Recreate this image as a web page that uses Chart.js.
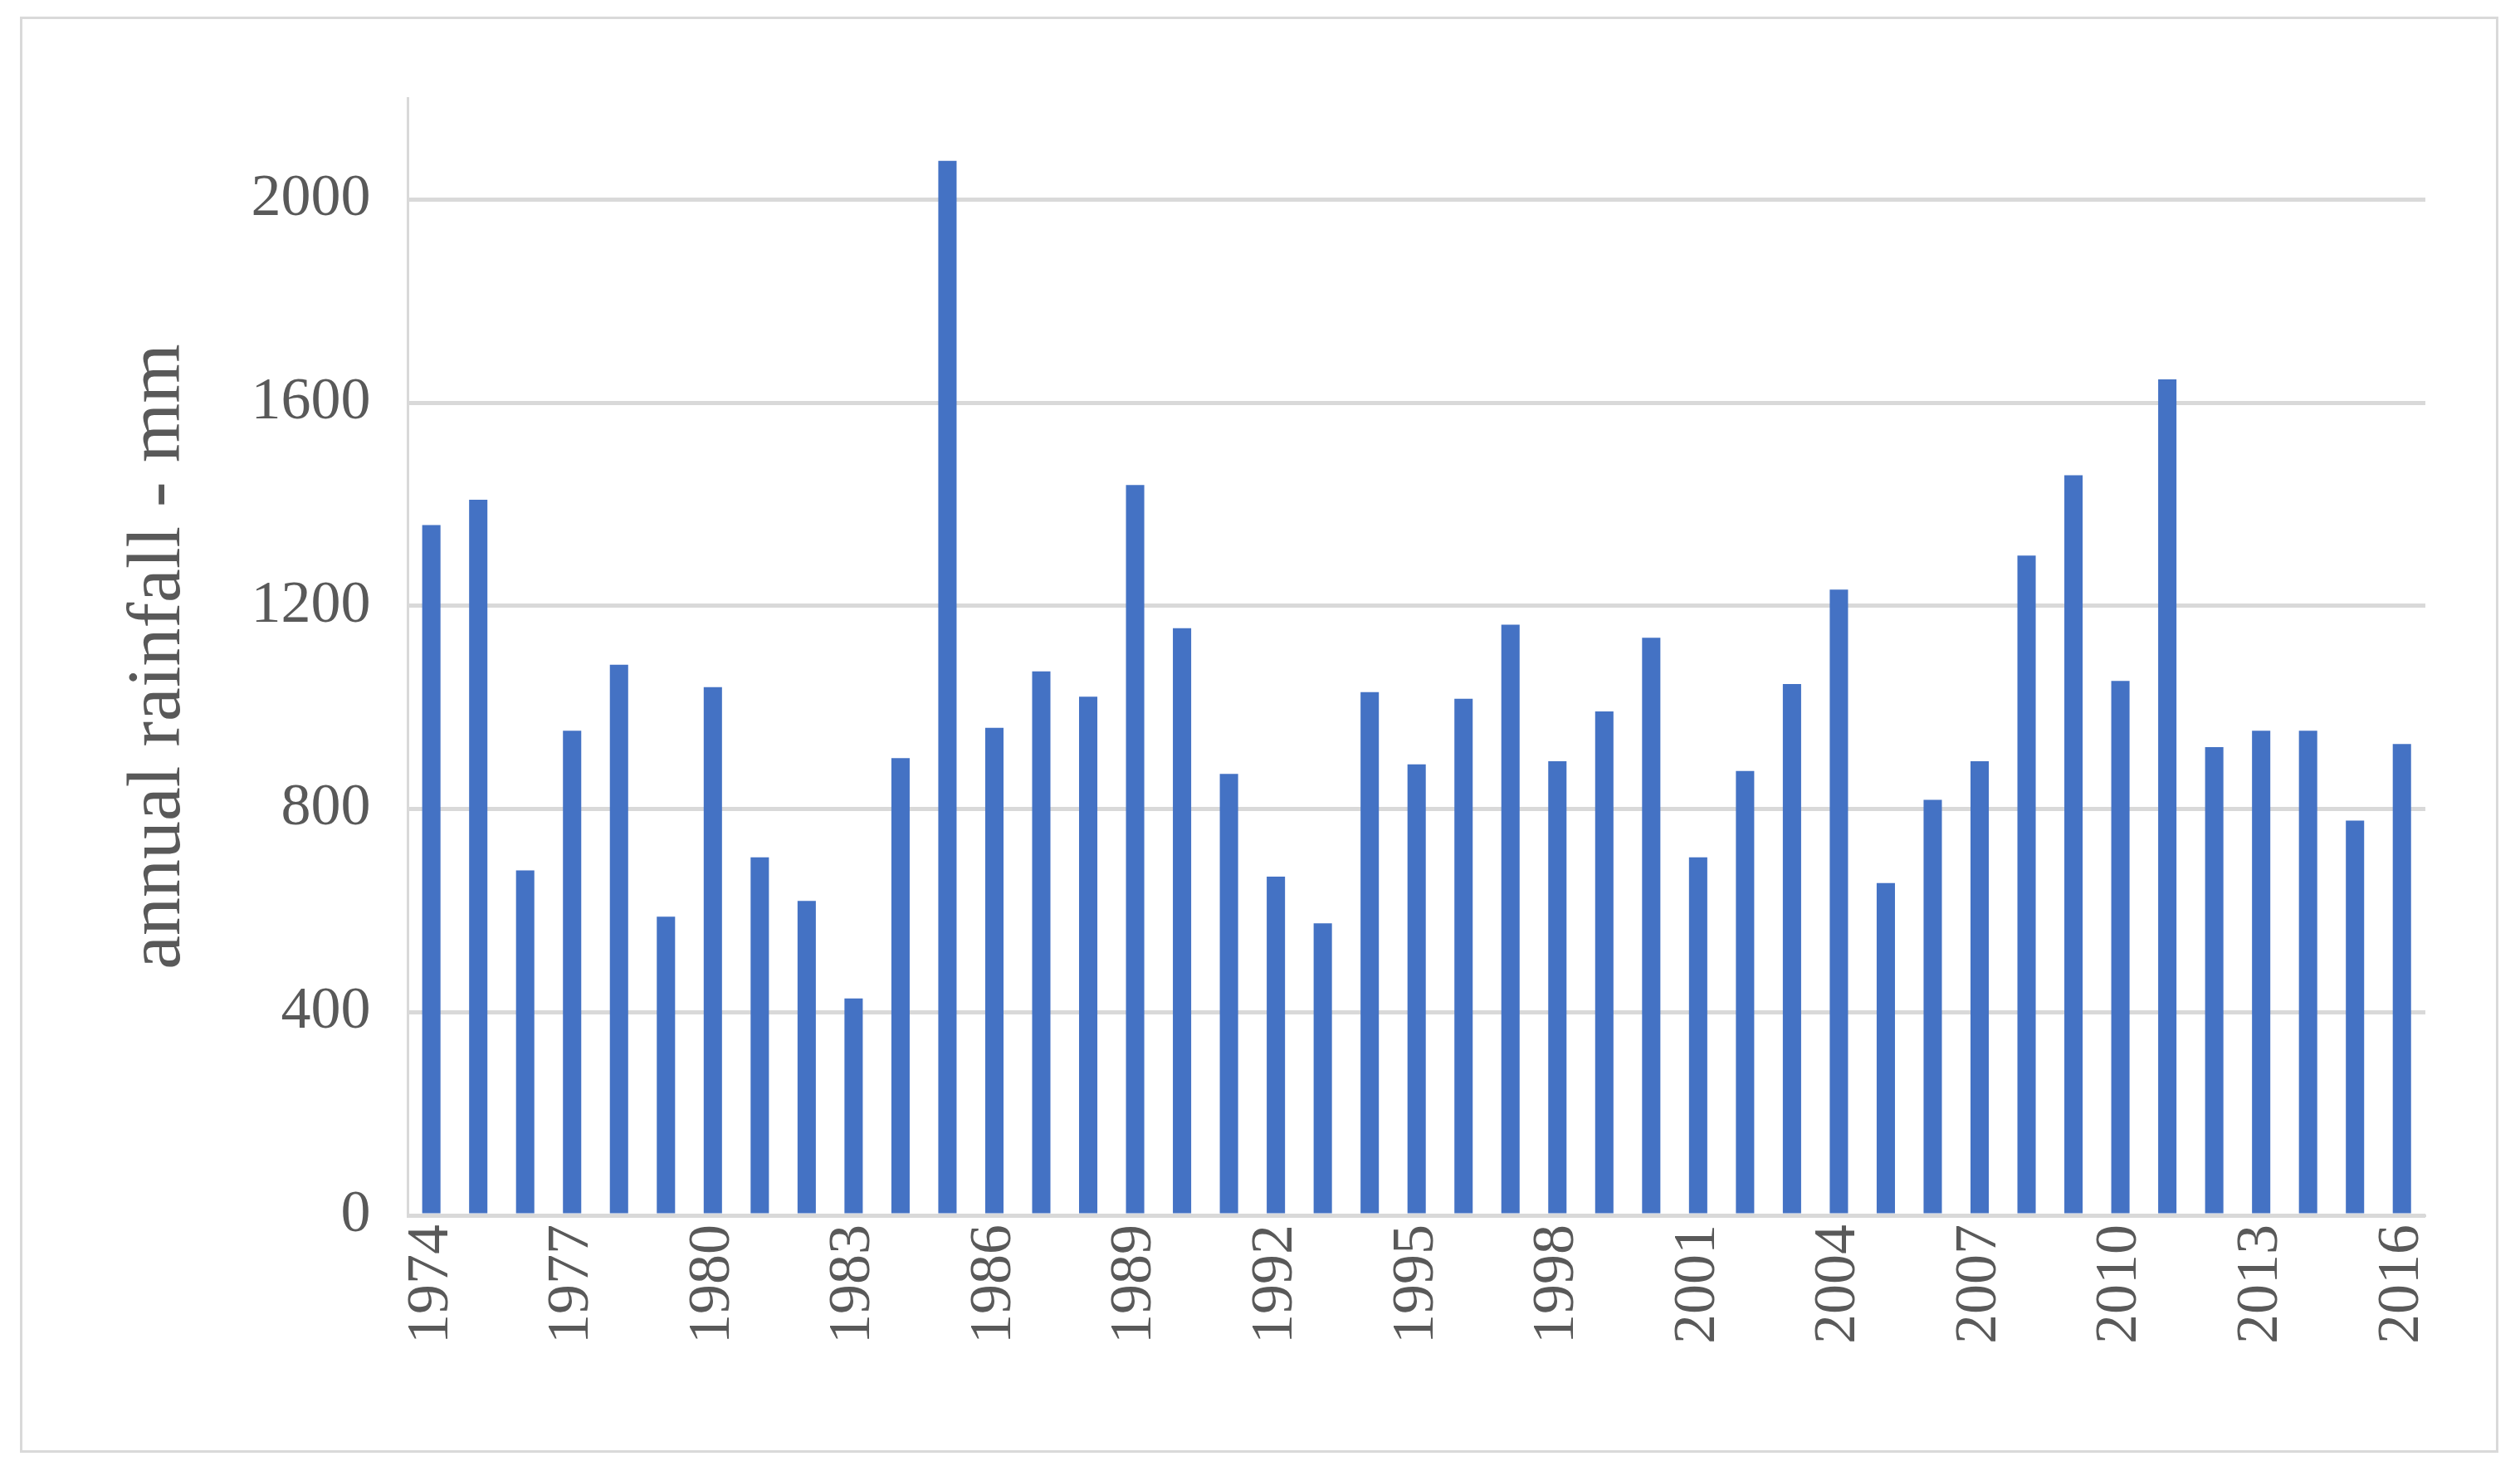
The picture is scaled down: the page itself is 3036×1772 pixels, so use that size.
<!DOCTYPE html>
<html>
<head>
<meta charset="UTF-8">
<script src="https://cdn.jsdelivr.net/npm/chart.js"></script>
<style>
  html, body { margin: 0; background: #fff; }
  #wrap { position: absolute; left: 24px; top: 20px; width: 2986px; height: 1730px; border: 3px solid #d9d9d9; box-sizing: border-box; }
  canvas { position: absolute; left: 0; top: 0; }
</style>
</head>
<body>
<div id="wrap"><canvas id="c"></canvas></div>
<script>
  const years = [];
  for (let y = 1974; y <= 2016; y++) years.push(String(y));
  const rainfall = [1359, 1409, 679, 954, 1084, 588, 1040, 705, 619, 427, 900, 2076, 960, 1071, 1021,
    1438, 1156, 869, 667, 575, 1030, 888, 1017, 1163, 894, 992, 1137, 705, 875, 1046, 1232, 654,
    818, 894, 1299, 1457, 1052, 1646, 922, 954, 954, 777, 928];
  const yTicks = [0, 400, 800, 1200, 1600, 2000];

  const font = { family: "'Liberation Serif', 'DejaVu Serif', serif", size: 72 };
  const titleFont = { family: "'Liberation Serif', 'DejaVu Serif', serif", size: 92 };
  const canvas = document.getElementById('c');
  canvas.width = 2980; canvas.height = 1724;
  canvas.style.width = '2980px'; canvas.style.height = '1724px';

  new Chart(canvas, {
    type: 'bar',
    data: {
      labels: years,
      datasets: [{ data: rainfall, backgroundColor: '#4472c4', barPercentage: 0.39, categoryPercentage: 1 }]
    },
    options: {
      responsive: false,
      animation: false,
      devicePixelRatio: 1,
      layout: { padding: { left: 100, right: 85, top: 95, bottom: 125 } },
      plugins: { legend: { display: false }, tooltip: { enabled: false } },
      scales: {
        x: {
          grid: { display: false },
          border: { color: '#d9d9d9', width: 3 },
          ticks: {
            color: '#595959', font: font, maxRotation: 90, minRotation: 90, autoSkip: false,
            callback: function (v, i) { return i % 3 === 0 ? years[i] : null; }
          }
        },
        y: {
          min: 0, max: 2200,
          afterBuildTicks: function (ax) { ax.ticks = yTicks.map(v => ({ value: v })); },
          grid: { color: '#d9d9d9', lineWidth: 5, drawTicks: false },
          border: { color: '#d9d9d9', width: 3 },
          ticks: { color: '#595959', font: font, padding: 45, callback: v => String(v) },
          title: { display: true, text: 'annual rainfall - mm', color: '#595959', font: titleFont, padding: 10 }
        }
      }
    }
  });
</script>
</body>
</html>
